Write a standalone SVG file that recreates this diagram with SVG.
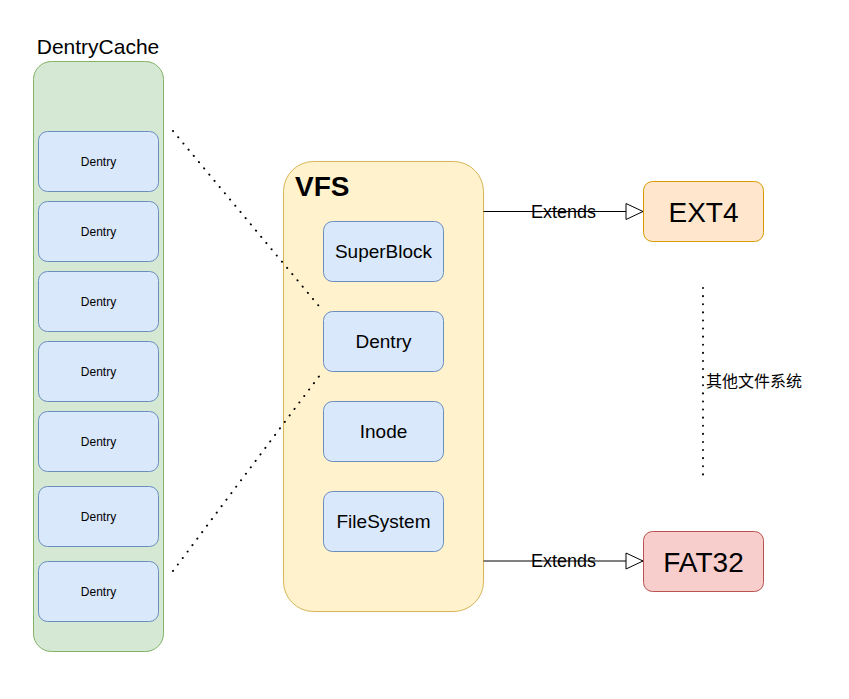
<svg xmlns="http://www.w3.org/2000/svg" width="849" height="699" viewBox="0 0 849 699">
<style>
text{font-family:"Liberation Sans",Arial,sans-serif;fill:#000;}
.d{fill:#dae8fc;stroke:#6c8ebf;stroke-width:1;}
.t12{font-size:12px;text-anchor:middle;}
.t18{font-size:19px;text-anchor:middle;}
.dot{stroke:#000;stroke-width:2;stroke-dasharray:0.1 8;stroke-linecap:round;fill:none;}
.ln{stroke:#000;stroke-width:1;fill:none;}
</style>
<defs>
<marker id="tri" markerWidth="20" markerHeight="20" refX="18" refY="9" orient="auto" markerUnits="userSpaceOnUse">
<path d="M1,1 L18,9 L1,17 Z" fill="#fff" stroke="#000" stroke-width="1"/>
</marker>
</defs>
<rect width="849" height="699" fill="#fff"/>
<g id="dentrycache">
<rect x="33.5" y="61.5" width="130" height="590" rx="18" fill="#d5e8d4" stroke="#82b366"/>
<text x="98" y="54" font-size="21" text-anchor="middle">DentryCache</text>
</g>
<g id="dc1"><rect class="d" x="38.5" y="131.5" width="120" height="60" rx="9"/><text class="t12" x="98.5" y="166">Dentry</text></g>
<g id="dc2"><rect class="d" x="38.5" y="201.5" width="120" height="60" rx="9"/><text class="t12" x="98.5" y="236">Dentry</text></g>
<g id="dc3"><rect class="d" x="38.5" y="271.5" width="120" height="60" rx="9"/><text class="t12" x="98.5" y="306">Dentry</text></g>
<g id="dc4"><rect class="d" x="38.5" y="341.5" width="120" height="60" rx="9"/><text class="t12" x="98.5" y="376">Dentry</text></g>
<g id="dc5"><rect class="d" x="38.5" y="411.5" width="120" height="60" rx="9"/><text class="t12" x="98.5" y="446">Dentry</text></g>
<g id="dc6"><rect class="d" x="38.5" y="486.5" width="120" height="60" rx="9"/><text class="t12" x="98.5" y="521">Dentry</text></g>
<g id="dc7"><rect class="d" x="38.5" y="561.5" width="120" height="60" rx="9"/><text class="t12" x="98.5" y="596">Dentry</text></g>
<g id="vfs">
<rect x="283.5" y="161.5" width="200" height="450" rx="30" fill="#fff2cc" stroke="#d6b656"/>
<text x="295" y="196" font-size="28" font-weight="bold">VFS</text>
</g>
<g id="superblock"><rect class="d" x="323.5" y="221.5" width="120" height="60" rx="9"/><text class="t18" x="383.5" y="258">SuperBlock</text></g>
<g id="dentry"><rect class="d" x="323.5" y="311.5" width="120" height="60" rx="9"/><text class="t18" x="383.5" y="348">Dentry</text></g>
<g id="inode"><rect class="d" x="323.5" y="401.5" width="120" height="60" rx="9"/><text class="t18" x="383.5" y="438">Inode</text></g>
<g id="filesystem"><rect class="d" x="323.5" y="491.5" width="120" height="60" rx="9"/><text class="t18" x="383.5" y="528">FileSystem</text></g>
<g id="ext4"><rect x="643.5" y="181.5" width="120" height="60" rx="9" fill="#ffe6cc" stroke="#d79b00"/><text x="703.5" y="221.5" font-size="28" text-anchor="middle">EXT4</text></g>
<g id="fat32"><rect x="643.5" y="531.5" width="120" height="60" rx="9" fill="#f8cecc" stroke="#b85450"/><text x="703.5" y="571.5" font-size="28" text-anchor="middle">FAT32</text></g>
<g id="connectors">
<line class="dot" x1="173" y1="131" x2="323" y2="311"/>
<line class="dot" x1="173" y1="571" x2="323" y2="371"/>
<line class="dot" x1="703" y1="288" x2="703" y2="481"/>
<line class="ln" x1="483.5" y1="211.5" x2="643" y2="211.5" marker-end="url(#tri)"/>
<line class="ln" x1="483.5" y1="561" x2="643" y2="561" marker-end="url(#tri)"/>
<text x="563.5" y="217.5" font-size="18" text-anchor="middle">Extends</text>
<text x="563.5" y="567" font-size="18" text-anchor="middle">Extends</text>
<text x="706" y="387" font-size="16" style="font-family:'Liberation Sans','Noto Sans CJK SC',sans-serif">其他文件系统</text>
</g>
</svg>
